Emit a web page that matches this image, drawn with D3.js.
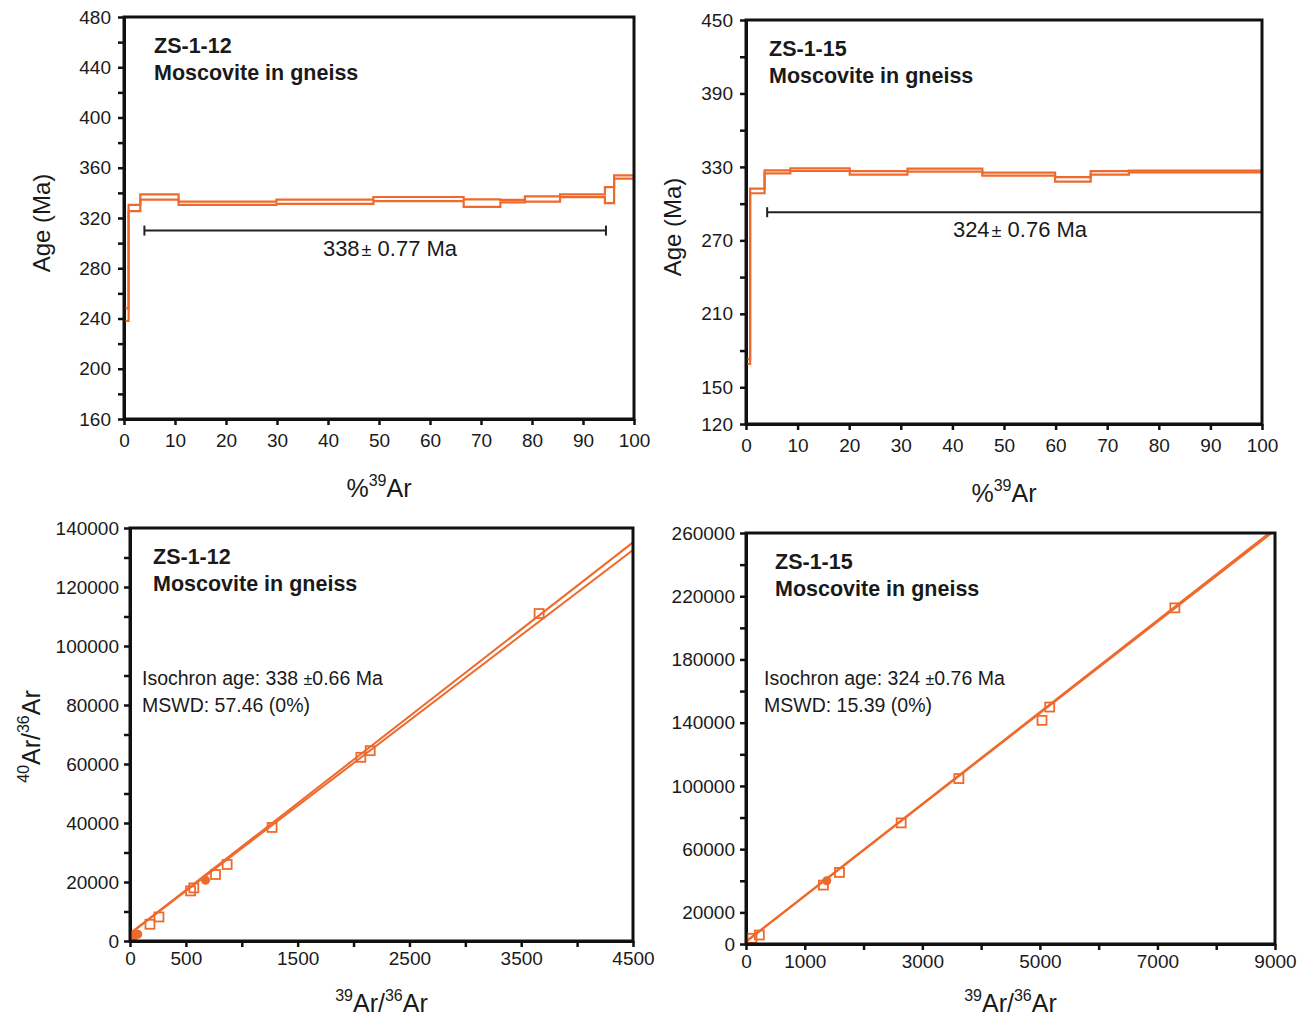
<!DOCTYPE html>
<html><head><meta charset="utf-8">
<script src="https://cdn.jsdelivr.net/npm/d3@7"></script>
<style>
html,body{margin:0;padding:0;background:#fff;}
text{font-family:"Liberation Sans",Arial,sans-serif;fill:#1a1a1a;}
</style></head>
<body><svg id="c" width="1302" height="1017"></svg>
<script>
// ---------- DATA ----------
// Age spectrum ZS-1-12: cumulative %39Ar step boundaries, step ages, half widths
const specPctA = [0, 0.9, 3.2, 10.7, 29.9, 48.9, 66.6, 73.8, 78.6, 85.5, 94.3, 96.1, 100];
const specAgeA = [243, 328, 336.7, 331.7, 332.9, 335.1, 331.8, 333.4, 335.1, 337.7, 338.2, 352.6];
const specErrA = [5, 2.5, 2.1, 1.3, 1.7, 1.6, 3.0, 1.0, 2.1, 1.1, 6.4, 1.3];
const plateauA = {from: 4.0, to: 94.5, age: 310, label: "338", err: "0.77 Ma"};
const yTicksA = [160,180,200,220,240,260,280,300,320,340,360,380,400,420,440,460,480];
const yLabelsA = [160,200,240,280,320,360,400,440,480];

// Age spectrum ZS-1-15
const specPctB = [0, 0.8, 3.6, 8.6, 20.1, 31.3, 45.8, 59.9, 66.8, 74.2, 100];
const specAgeB = [171, 310.4, 326, 327.8, 325.1, 327.4, 324.1, 319.8, 325.1, 326.2];
const specErrB = [2, 1.9, 1.2, 1.1, 1.4, 1.2, 1.2, 1.8, 1.4, 0.7];
const plateauB = {from: 4.1, to: 100, age: 293, label: "324", err: "0.76 Ma"};
const yTicksB = [120,150,180,210,240,270,300,330,360,390,420,450];
const yLabelsB = [120,150,210,270,330,390,450];
const pctTicks = [0,10,20,30,40,50,60,70,80,90,100];

// Isochron ZS-1-12 (39Ar/36Ar, 40Ar/36Ar)
const isoXA = [35, 70, 178.6, 259, 542, 571, 676, 765, 869, 1271, 2065, 2149, 3660];
const isoYA = [1600, 2300, 5670, 8150, 16980, 18000, 20610, 22550, 25940, 38500, 62270, 64520, 111000];
const isoFilledA = [true, true, false, false, false, false, true, false, false, false, false, false, false];
const isoLinesA = [[2500, 29.47], [2500, 28.9]]; // [intercept, slope]
const isoXTicksA = [0,500,1000,1500,2000,2500,3000,3500,4000,4500];
const isoXLabelsA = [0,500,1500,2500,3500,4500];
const isoYTicksA = [0,10000,20000,30000,40000,50000,60000,70000,80000,90000,100000,110000,120000,130000,140000];
const isoYLabelsA = [0,20000,40000,60000,80000,100000,120000,140000];

// Isochron ZS-1-15
const isoXB = [102, 227, 1317, 1374, 1590, 2640, 3622, 5036, 5167, 7296];
const isoYB = [3600, 5684, 37265, 40000, 45280, 76620, 104650, 141480, 149900, 212660];
const isoFilledB = [false, false, false, true, false, false, false, false, false, false];
const isoLinesB = [[1500, 29.04], [1500, 28.90]];
const isoXTicksB = [0,1000,2000,3000,4000,5000,6000,7000,8000,9000];
const isoXLabelsB = [0,1000,3000,5000,7000,9000];
const isoYTicksB = [0,20000,40000,60000,80000,100000,120000,140000,160000,180000,200000,220000,240000,260000];
const isoYLabelsB = [0,20000,60000,100000,140000,180000,220000,260000];

// ---------- DRAW ----------
const ORANGE = "#ee6a2c";
const svg = d3.select("#c");

function styleAxis(g, fs){
  g.select(".domain").attr("stroke","#111").attr("stroke-width",3);
  g.selectAll(".tick line").attr("stroke","#111").attr("stroke-width",2.5);
  g.selectAll(".tick text").attr("font-size",fs).attr("fill","#1a1a1a")
    .attr("font-family","'Liberation Sans',Arial,sans-serif");
}

function frame(x0,x1,y0,y1){
  svg.append("rect").attr("x",x0).attr("y",y0).attr("width",x1-x0).attr("height",y1-y0)
    .attr("fill","none").attr("stroke","#111").attr("stroke-width",3);
}

function titleText(x,y1,y2,name){
  svg.append("text").attr("x",x).attr("y",y1).attr("font-size",21.5).attr("font-weight","bold").text(name);
  svg.append("text").attr("x",x).attr("y",y2).attr("font-size",21.5).attr("font-weight","bold").text("Moscovite in gneiss");
}

function spectrum(c){
  const x = d3.scaleLinear().domain([0,100]).range([c.x0,c.x1]);
  const y = d3.scaleLinear().domain(c.yDom).range([c.y1,c.y0]);
  const ax = svg.append("g").attr("transform",`translate(0,${c.y1})`)
    .call(d3.axisBottom(x).tickValues(pctTicks).tickSize(6).tickSizeOuter(0).tickPadding(9));
  styleAxis(ax,19);
  const ay = svg.append("g").attr("transform",`translate(${c.x0},0)`)
    .call(d3.axisLeft(y).tickValues(c.yTicks).tickSize(6).tickSizeOuter(0).tickPadding(7)
      .tickFormat(d => c.yLabels.includes(d) ? d : ""));
  styleAxis(ay,19);

  const up=[], lo=[];
  c.age.forEach((a,i)=>{
    up.push([c.pct[i], a+c.err[i]],[c.pct[i+1], a+c.err[i]]);
    lo.push([c.pct[i], a-c.err[i]],[c.pct[i+1], a-c.err[i]]);
  });
  const line = d3.line().x(d=>x(d[0])).y(d=>y(d[1]));
  const n = c.age.length;
  svg.append("path").attr("d",line(up)).attr("fill","none").attr("stroke",ORANGE).attr("stroke-width",2.2);
  svg.append("path").attr("d",line(lo)).attr("fill","none").attr("stroke",ORANGE).attr("stroke-width",2.2);
  svg.append("path").attr("d",line([[c.pct[n],c.age[n-1]-c.err[n-1]],[c.pct[n],c.age[n-1]+c.err[n-1]]]))
    .attr("stroke",ORANGE).attr("stroke-width",2.2);

  // plateau bar
  const p = c.plateau, py = y(p.age);
  svg.append("line").attr("x1",x(p.from)).attr("x2",x(p.to)).attr("y1",py).attr("y2",py)
    .attr("stroke","#222").attr("stroke-width",2);
  [p.from,p.to].forEach(v=>{ if(v<100) svg.append("line").attr("x1",x(v)).attr("x2",x(v))
    .attr("y1",py-5).attr("y2",py+5).attr("stroke","#222").attr("stroke-width",2);});
  const t = svg.append("text").attr("x",c.tx).attr("y",py+25).attr("font-size",22).attr("text-anchor","middle");
  t.append("tspan").text(p.label);
  t.append("tspan").text("±").attr("font-size",18).attr("dx",2);
  t.append("tspan").text(" "+p.err);

  frame(c.x0,c.x1,c.y0,c.y1);
  titleText(c.tlx, c.y0+36, c.y0+63, c.name);

  // axis titles
  svg.append("text").attr("transform",`translate(${c.ylx},${(c.y0+c.y1)/2+5}) rotate(-90)`)
    .attr("text-anchor","middle").attr("font-size",24).text("Age (Ma)");
  const xt = svg.append("text").attr("x",(c.x0+c.x1)/2).attr("y",c.y1+78).attr("text-anchor","middle").attr("font-size",25);
  xt.append("tspan").text("%");
  xt.append("tspan").text("39").attr("font-size",16).attr("dy",-11);
  xt.append("tspan").text("Ar").attr("dy",11);
}

function isochron(c){
  const x = d3.scaleLinear().domain(c.xDom).range([c.x0,c.x1]);
  const y = d3.scaleLinear().domain(c.yDom).range([c.y1,c.y0]);
  const ax = svg.append("g").attr("transform",`translate(0,${c.y1})`)
    .call(d3.axisBottom(x).tickValues(c.xTicks).tickSize(6).tickSizeOuter(0).tickPadding(5)
      .tickFormat(d => c.xLabels.includes(d) ? d : ""));
  styleAxis(ax,19);
  const ay = svg.append("g").attr("transform",`translate(${c.x0},0)`)
    .call(d3.axisLeft(y).tickValues(c.yTicks).tickSize(6).tickSizeOuter(0).tickPadding(5)
      .tickFormat(d => c.yLabels.includes(d) ? d : ""));
  styleAxis(ay,19);

  const cid = "clip"+c.name;
  svg.append("clipPath").attr("id",cid).append("rect").attr("x",c.x0).attr("y",c.y0)
    .attr("width",c.x1-c.x0).attr("height",c.y1-c.y0);
  const gl = svg.append("g").attr("clip-path",`url(#${cid})`);
  c.lines.forEach(([b,m])=>{
    gl.append("line").attr("x1",x(0)).attr("y1",y(b)).attr("x2",x(c.xDom[1])).attr("y2",y(b+m*c.xDom[1]))
      .attr("stroke",ORANGE).attr("stroke-width",2);
  });
  c.xs.forEach((v,i)=>{
    if(c.filled[i]){
      gl.append("circle").attr("cx",x(v)).attr("cy",y(c.ys[i])).attr("r",4.5).attr("fill",ORANGE);
    } else {
      gl.append("rect").attr("x",x(v)-4.5).attr("y",y(c.ys[i])-4.5).attr("width",9).attr("height",9)
        .attr("fill","none").attr("stroke",ORANGE).attr("stroke-width",1.8);
    }
  });

  frame(c.x0,c.x1,c.y0,c.y1);
  titleText(c.tlx, c.y0+36, c.y0+63, c.name);
  const t = svg.append("text").attr("x",c.x0+c.txo).attr("y",685).attr("font-size",19.5);
  t.append("tspan").text("Isochron age: "+c.age+" ");
  t.append("tspan").text("±").attr("font-size",16);
  t.append("tspan").text(c.err);
  svg.append("text").attr("x",c.x0+c.txo).attr("y",712).attr("font-size",19.5).text(c.mswd);

  const xt = svg.append("text").attr("x",(c.x0+c.x1)/2).attr("y",1012).attr("text-anchor","middle").attr("font-size",25);
  xt.append("tspan").text("39").attr("font-size",16).attr("dy",-11);
  xt.append("tspan").text("Ar/").attr("dy",11);
  xt.append("tspan").text("36").attr("font-size",16).attr("dy",-11);
  xt.append("tspan").text("Ar").attr("dy",11);
  if(c.ylab){
    const yt = svg.append("text").attr("transform",`translate(40,${(c.y0+c.y1)/2+2}) rotate(-90)`)
      .attr("text-anchor","middle").attr("font-size",25);
    yt.append("tspan").text("40").attr("font-size",16).attr("dy",-11);
    yt.append("tspan").text("Ar/").attr("dy",11);
    yt.append("tspan").text("36").attr("font-size",16).attr("dy",-11);
    yt.append("tspan").text("Ar").attr("dy",11);
  }
}

spectrum({x0:124,x1:634,y0:17,y1:419,yDom:[160,480],yTicks:yTicksA,yLabels:yLabelsA,
  pct:specPctA,age:specAgeA,err:specErrA,plateau:plateauA,tx:390,name:"ZS-1-12",ylx:50,tlx:154});
spectrum({x0:746,x1:1262,y0:20,y1:424,yDom:[120,450],yTicks:yTicksB,yLabels:yLabelsB,
  pct:specPctB,age:specAgeB,err:specErrB,plateau:plateauB,tx:1020,name:"ZS-1-15",ylx:681,tlx:769});

isochron({x0:130,x1:633,y0:528,y1:941,xDom:[0,4500],yDom:[0,140000],xTicks:isoXTicksA,xLabels:isoXLabelsA,
  yTicks:isoYTicksA,yLabels:isoYLabelsA,xs:isoXA,ys:isoYA,filled:isoFilledA,lines:isoLinesA,
  name:"ZS-1-12",age:"338",err:"0.66 Ma",mswd:"MSWD: 57.46 (0%)",ylab:true,tlx:153,txo:12});
isochron({x0:746,x1:1275,y0:533,y1:944,xDom:[0,9000],yDom:[0,260000],xTicks:isoXTicksB,xLabels:isoXLabelsB,
  yTicks:isoYTicksB,yLabels:isoYLabelsB,xs:isoXB,ys:isoYB,filled:isoFilledB,lines:isoLinesB,
  name:"ZS-1-15",age:"324",err:"0.76 Ma",mswd:"MSWD: 15.39 (0%)",ylab:false,tlx:775,txo:18});
</script></body></html>
